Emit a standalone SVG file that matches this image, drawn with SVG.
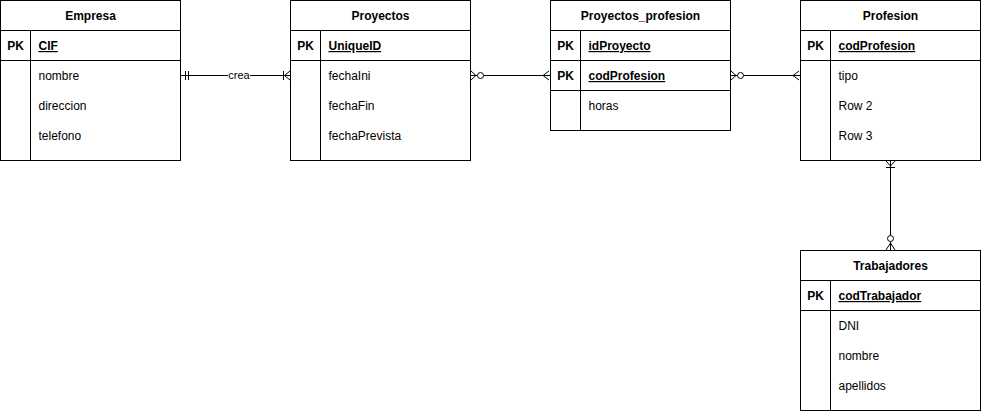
<svg xmlns="http://www.w3.org/2000/svg" width="981" height="411" viewBox="0 0 981 411">
<style>
.box{fill:#fff;stroke:#000;stroke-width:1}
.ln{stroke:#000;stroke-width:1;fill:none}
.hd{font-family:"Liberation Sans",Arial,sans-serif;font-size:12px;font-weight:bold;text-anchor:middle;fill:#000}
.pk{font-family:"Liberation Sans",Arial,sans-serif;font-size:12px;font-weight:bold;text-anchor:middle;fill:#000}
.key{font-family:"Liberation Sans",Arial,sans-serif;font-size:12px;font-weight:bold;text-decoration:underline;fill:#000}
.fd{font-family:"Liberation Sans",Arial,sans-serif;font-size:12px;fill:#000}
.lbl{font-family:"Liberation Sans",Arial,sans-serif;font-size:11px;text-anchor:middle;fill:#000}
.mk{stroke:#000;stroke-width:1;fill:none}
.circ{stroke:#000;stroke-width:1;fill:#fff}
</style>
<g id="connectors">
  <!-- Empresa - Proyectos -->
  <path class="ln" d="M180.5 75.5 H290.5"/>
  <path class="mk" d="M185.5 71 V80 M188.5 71 V80"/>
  <path class="mk" d="M283.5 71 V80 M290 71 L284.5 75.5 L290 80"/>
  <rect x="228" y="69" width="22" height="13" fill="#fff"/>
  <text class="lbl" x="239" y="79">crea</text>
  <!-- Proyectos - Proyectos_profesion -->
  <path class="ln" d="M470.5 75.5 H477.5 M483.5 75.5 H550.5"/>
  <path class="mk" d="M471 71 L476 75.5 L471 80"/>
  <circle class="circ" cx="480.5" cy="75.5" r="3"/>
  <path class="mk" d="M549 71 L543 75.5 L549 80"/>
  <!-- Proyectos_profesion - Profesion -->
  <path class="ln" d="M730.5 75.5 H737.5 M743.5 75.5 H800.5"/>
  <path class="mk" d="M731 71 L736 75.5 L731 80"/>
  <circle class="circ" cx="740.5" cy="75.5" r="3"/>
  <path class="mk" d="M799 71 L793 75.5 L799 80"/>
  <!-- Profesion - Trabajadores -->
  <path class="ln" d="M890.5 160.5 V235.5 M890.5 241.5 V250.5"/>
  <path class="mk" d="M886 161 L890.5 166 L895 161 M886 167.5 H895"/>
  <circle class="circ" cx="890.5" cy="238.5" r="3"/>
  <path class="mk" d="M886 250 L890.5 243 L895 250"/>
</g>
<g id="Empresa">
  <rect class="box" x="0.5" y="0.5" width="180" height="160"/>
  <path class="ln" d="M0.5 30.5 H180.5 M0.5 60.5 H180.5 M30.5 30.5 V160.5"/>
  <text class="hd" x="90.5" y="20">Empresa</text>
  <text class="pk" x="15.5" y="50">PK</text>
  <text class="key" x="38.5" y="50">CIF</text>
  <text class="fd" x="38.5" y="80">nombre</text>
  <text class="fd" x="38.5" y="110">direccion</text>
  <text class="fd" x="38.5" y="140">telefono</text>
</g>
<g id="Proyectos">
  <rect class="box" x="290.5" y="0.5" width="180" height="160"/>
  <path class="ln" d="M290.5 30.5 H470.5 M290.5 60.5 H470.5 M320.5 30.5 V160.5"/>
  <text class="hd" x="380.5" y="20">Proyectos</text>
  <text class="pk" x="305.5" y="50">PK</text>
  <text class="key" x="328.5" y="50">UniqueID</text>
  <text class="fd" x="328.5" y="80">fechaIni</text>
  <text class="fd" x="328.5" y="110">fechaFin</text>
  <text class="fd" x="328.5" y="140">fechaPrevista</text>
</g>
<g id="Proyectos_profesion">
  <rect class="box" x="550.5" y="0.5" width="180" height="130"/>
  <path class="ln" d="M550.5 30.5 H730.5 M550.5 60.5 H730.5 M550.5 90.5 H730.5 M580.5 30.5 V130.5"/>
  <text class="hd" x="640.5" y="20">Proyectos_profesion</text>
  <text class="pk" x="565.5" y="50">PK</text>
  <text class="key" x="588.5" y="50">idProyecto</text>
  <text class="pk" x="565.5" y="80">PK</text>
  <text class="key" x="588.5" y="80">codProfesion</text>
  <text class="fd" x="588.5" y="110">horas</text>
</g>
<g id="Profesion">
  <rect class="box" x="800.5" y="0.5" width="180" height="160"/>
  <path class="ln" d="M800.5 30.5 H980.5 M800.5 60.5 H980.5 M830.5 30.5 V160.5"/>
  <text class="hd" x="890.5" y="20">Profesion</text>
  <text class="pk" x="815.5" y="50">PK</text>
  <text class="key" x="838.5" y="50">codProfesion</text>
  <text class="fd" x="838.5" y="80">tipo</text>
  <text class="fd" x="838.5" y="110">Row 2</text>
  <text class="fd" x="838.5" y="140">Row 3</text>
</g>
<g id="Trabajadores">
  <rect class="box" x="800.5" y="250.5" width="180" height="160"/>
  <path class="ln" d="M800.5 280.5 H980.5 M800.5 310.5 H980.5 M830.5 280.5 V410.5"/>
  <text class="hd" x="890.5" y="270">Trabajadores</text>
  <text class="pk" x="815.5" y="300">PK</text>
  <text class="key" x="838.5" y="300">codTrabajador</text>
  <text class="fd" x="838.5" y="330">DNI</text>
  <text class="fd" x="838.5" y="360">nombre</text>
  <text class="fd" x="838.5" y="390">apellidos</text>
</g>
</svg>
